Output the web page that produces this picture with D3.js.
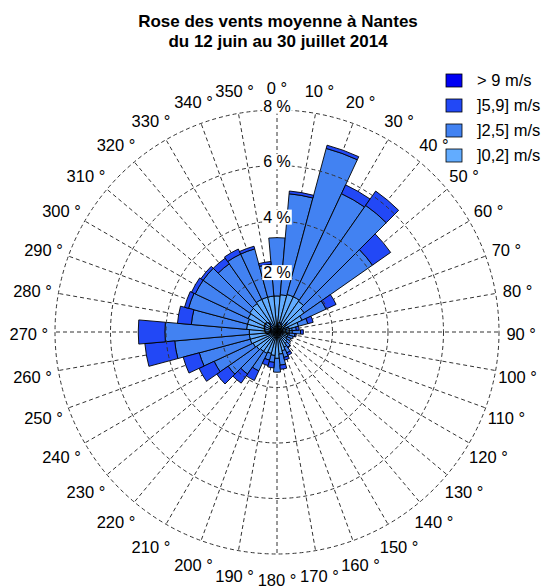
<!DOCTYPE html>
<html>
<head>
<meta charset="utf-8">
<script src="https://cdn.jsdelivr.net/npm/d3@7"></script>
<style>
  body { margin: 0; background: #fff; }
  svg text { font-family: "Liberation Sans", Arial, sans-serif; }
</style>
</head>
<body>
<div id="chart"></div>
<script>
// ── Data (% of observations per direction and speed class) ──────────────────
const directions = d3.range(0, 360, 10);
const freq_0_2 = [1.3, 1.35, 1.4, 1.4, 1.35, 1.2, 1.0, 0.8, 0.55, 0.55, 0.45, 0.4, 0.4, 0.45, 0.5, 0.6, 0.7, 0.8,
                  0.95, 0.85, 0.8, 0.85, 0.85, 0.9, 0.95, 1.0, 1.0, 1.0, 1.1, 1.1, 1.15, 1.2, 1.25, 1.3, 1.3, 1.3];
const freq_2_5 = [2.1, 3.65, 5.45, 4.1, 4.22, 3.0, 0.95, 0.35, 0.15, 0.3, 0.2, 0.2, 0.15, 0.15, 0.17, 0.23, 0.25, 0.4,
                  0.5, 0.25, 0.25, 0.7, 1.0, 1.25, 1.55, 1.9, 2.7, 3.04, 2.0, 2.2, 2.1, 2.05, 1.75, 1.8, 1.8, 1.15];
const freq_5_9 = [0, 0.1, 0.12, 0.35, 0.63, 0.8, 0.4, 0.2, 0.1, 0.1, 0.05, 0, 0, 0, 0.03, 0.1, 0.1, 0.15,
                  0, 0.2, 0.2, 0.38, 0.4, 0.5, 0.6, 0.6, 1.08, 0.96, 0.5, 0.15, 0.15, 0.1, 0.25, 0.2, 0.1, 0.1];
const freq_9   = [0, 0, 0, 0, 0, 0, 0, 0, 0, 0, 0, 0, 0, 0, 0, 0, 0, 0,
                  0, 0, 0, 0, 0, 0, 0, 0, 0, 0, 0, 0, 0, 0, 0, 0, 0, 0];

const classKeys   = ["c02", "c25", "c59", "c9"];
const classLabels = ["]0,2] m/s", "]2,5] m/s", "]5,9] m/s", "> 9 m/s"];
const classColors = ["#62acff", "#4282f2", "#2248f6", "#0000f4"];
const pctTicks    = [0, 2, 4, 6, 8];
const titleLines  = ["Rose des vents moyenne à Nantes", "du 12 juin au 30 juillet 2014"];

// ── Dimensions ──────────────────────────────────────────────────────────────
const W = 548, H = 588;
const cx = 277, cy = 332, R = 222;

const svg = d3.select("#chart").append("svg")
  .attr("width", W).attr("height", H);

// ── Scales ──────────────────────────────────────────────────────────────────
const rScale = d3.scaleLinear().domain([0, 8]).range([0, R]);
const aScale = d3.scaleLinear().domain([0, 360]).range([0, 2 * Math.PI]);
const halfW = 5;

const g = svg.append("g").attr("transform", `translate(${cx},${cy})`);

// ── Radial grid lines (under bars) ──────────────────────────────────────────
g.append("g").selectAll("line").data(directions).join("line")
  .attr("x1", 0).attr("y1", 0)
  .attr("x2", d => rScale(8) * Math.sin(aScale(d)))
  .attr("y2", d => -rScale(8) * Math.cos(aScale(d)))
  .attr("stroke", "#333").attr("stroke-width", 1)
  .attr("stroke-dasharray", "4,3");

// ── Stacked bars ────────────────────────────────────────────────────────────
const table = directions.map((d, i) => ({
  dir: d, c02: freq_0_2[i], c25: freq_2_5[i], c59: freq_5_9[i], c9: freq_9[i]
}));
const series = d3.stack().keys(classKeys)(table);

const arc = d3.arc()
  .innerRadius(d => rScale(d[0]))
  .outerRadius(d => rScale(d[1]))
  .startAngle(d => aScale(d.data.dir - halfW))
  .endAngle(d => aScale(d.data.dir + halfW));

g.append("g").selectAll("g").data(series).join("g")
  .attr("fill", (s, i) => classColors[i])
  .selectAll("path").data(s => s.filter(d => d[1] - d[0] > 0)).join("path")
  .attr("d", arc)
  .attr("stroke", "#000").attr("stroke-width", 0.9)
  .attr("stroke-linejoin", "miter");

// ── Circles (over bars) ─────────────────────────────────────────────────────
g.append("g").selectAll("circle").data(pctTicks.filter(v => v > 0)).join("circle")
  .attr("r", d => rScale(d))
  .attr("fill", "none")
  .attr("stroke", "#333").attr("stroke-width", 1)
  .attr("stroke-dasharray", "4,3");

// ── Percent labels ──────────────────────────────────────────────────────────
const pl = g.append("g").selectAll("g").data(pctTicks).join("g")
  .attr("transform", d => `translate(0,${-rScale(d) - 4})`);
pl.append("text")
  .attr("text-anchor", "middle").attr("dy", "0.35em")
  .attr("font-size", 16)
  .text(d => `${d} %`);
pl.filter(d => d > 0).each(function() {
  const t = d3.select(this).select("text");
  const b = t.node().getBBox();
  d3.select(this).insert("rect", "text")
    .attr("x", b.x - 1).attr("y", b.y + 1)
    .attr("width", b.width + 2).attr("height", b.height - 2)
    .attr("fill", "#fff");
});

// ── Direction labels ────────────────────────────────────────────────────────
g.append("g").selectAll("text").data(directions).join("text")
  .attr("x", d => R * 1.1 * Math.sin(aScale(d)) - (Math.sin(aScale(d)) < -0.5 ? 4 : 0))
  .attr("y", d => -R * 1.1 * Math.cos(aScale(d)) + (1 - Math.cos(aScale(d))) * 2)
  .attr("text-anchor", "middle").attr("dy", "0.35em")
  .attr("font-size", 16.5)
  .text(d => `${d} °`);

// ── Title ───────────────────────────────────────────────────────────────────
svg.append("g").selectAll("text").data(titleLines).join("text")
  .attr("x", 278).attr("y", (d, i) => 27 + i * 20)
  .attr("text-anchor", "middle")
  .attr("font-size", 17).attr("font-weight", "bold")
  .text(d => d);

// ── Legend ──────────────────────────────────────────────────────────────────
const legendOrder = [3, 2, 1, 0];
const lg = svg.append("g").selectAll("g").data(legendOrder).join("g")
  .attr("transform", (d, i) => `translate(446,${74 + i * 25})`);
lg.append("rect")
  .attr("width", 16).attr("height", 13)
  .attr("fill", d => classColors[d])
  .attr("stroke", "#000").attr("stroke-width", 0.8);
lg.append("text")
  .attr("x", 31).attr("y", 6.5).attr("dy", "0.35em")
  .attr("font-size", 16.5)
  .text(d => classLabels[d]);
</script>
</body>
</html>
